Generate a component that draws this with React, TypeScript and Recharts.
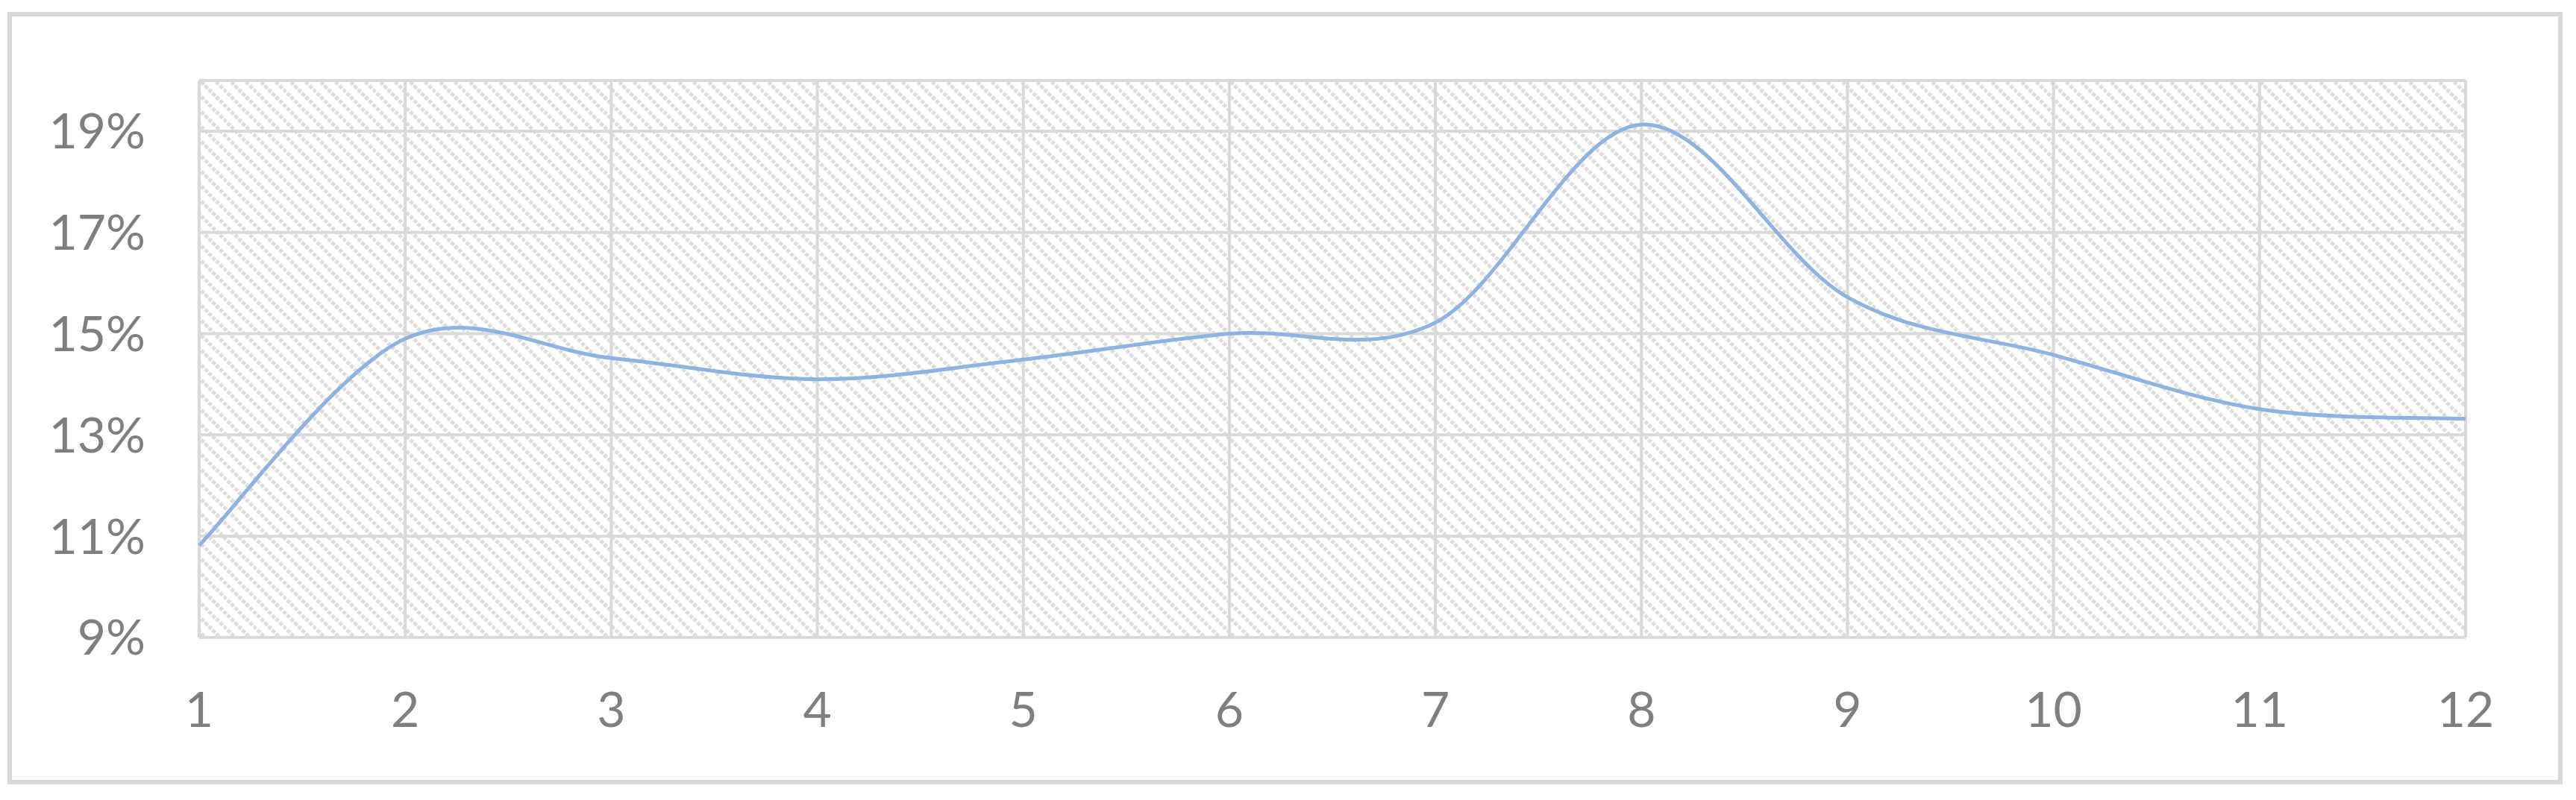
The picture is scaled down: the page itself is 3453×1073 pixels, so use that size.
import { LineChart, Line, XAxis, YAxis, CartesianGrid } from "recharts";

// Data
const months = [1, 2, 3, 4, 5, 6, 7, 8, 9, 10, 11, 12];
const rates = [0.1082, 0.149, 0.1452, 0.141, 0.1449, 0.15, 0.1522, 0.1913, 0.1572, 0.1458, 0.1351, 0.1332];
const yTicks = [0.09, 0.11, 0.13, 0.15, 0.17, 0.19];

const WIDTH = 3453;
const HEIGHT = 1073;
const GRID = "#d9d9d9";
const TEXT = "#7f7f7f";
const LINE = "#8db3e2";
const FONT = "Lato, 'Open Sans', sans-serif";

const chartData = months.map((m, i) => ({ m, rate: rates[i] }));

// Excel-style smoothed line (Catmull-Rom through every point)
function excelCurve(context: any) {
  let pts: number[][] = [];
  return {
    areaStart() {},
    areaEnd() {},
    lineStart() {
      pts = [];
    },
    point(x: number, y: number) {
      pts.push([+x, +y]);
    },
    lineEnd() {
      if (!pts.length) return;
      context.moveTo(pts[0][0], pts[0][1]);
      for (let i = 0; i < pts.length - 1; i++) {
        const p0 = pts[i - 1] || pts[i];
        const p1 = pts[i];
        const p2 = pts[i + 1];
        const p3 = pts[i + 2] || pts[i + 1];
        context.bezierCurveTo(
          p1[0] + (p2[0] - p0[0]) / 6,
          p1[1] + (p2[1] - p0[1]) / 6,
          p2[0] - (p3[0] - p1[0]) / 6,
          p2[1] - (p3[1] - p1[1]) / 6,
          p2[0],
          p2[1]
        );
      }
    },
  };
}

export default function App() {
  return (
    <div style={{ position: "absolute", left: 0, top: 0, width: WIDTH, height: HEIGHT, background: "#fff" }}>
      <div
        style={{
          position: "absolute",
          left: 10,
          top: 16,
          width: 3425,
          height: 1036,
          boxSizing: "border-box",
          border: `6px solid ${GRID}`,
        }}
      />
      <div style={{ position: "absolute", left: 0, top: 0 }}>
        <LineChart
          width={WIDTH}
          height={HEIGHT}
          data={chartData}
          margin={{ top: 108, right: 148, bottom: 118, left: 0 }}
        >
          <defs>
            <pattern id="hatch" width="20" height="20" patternUnits="userSpaceOnUse">
              <rect width="20" height="20" fill="#ffffff" />
              <path
                d="M-5,-5 L25,25 M-5,15 L5,25 M15,-5 L25,5"
                stroke="#dddddd"
                strokeWidth="5"
                strokeDasharray="5 2"
              />
            </pattern>
          </defs>
          <CartesianGrid stroke={GRID} strokeWidth={4} fill="url(#hatch)" fillOpacity={1} />
          <XAxis
            dataKey="m"
            type="number"
            domain={[1, 12]}
            ticks={months}
            axisLine={false}
            tickLine={false}
            tickSize={0}
            tickMargin={73}
            height={100}
            tick={{ fill: TEXT, fontSize: 66, fontFamily: FONT }}
          />
          <YAxis
            type="number"
            domain={[0.09, 0.2]}
            ticks={yTicks}
            allowDataOverflow
            axisLine={false}
            tickLine={false}
            tickSize={0}
            tickMargin={72}
            width={267}
            tickFormatter={(v: number) => `${Math.round(v * 100)}%`}
            tick={{ fill: TEXT, fontSize: 66, fontFamily: FONT }}
          />
          <Line
            dataKey="rate"
            type={excelCurve as any}
            stroke={LINE}
            strokeWidth={5}
            dot={false}
            activeDot={false}
            isAnimationActive={false}
          />
        </LineChart>
      </div>
    </div>
  );
}
